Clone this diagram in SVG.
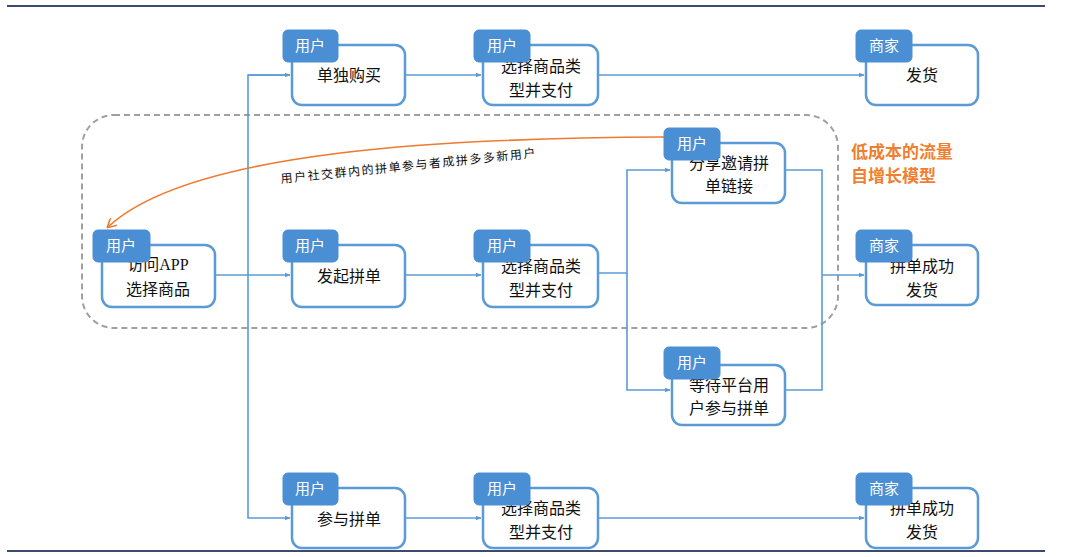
<svg xmlns="http://www.w3.org/2000/svg" width="1080" height="557" viewBox="0 0 1080 557">
<defs>
<style>
.box{fill:#fff;stroke:#5b9bd5;stroke-width:2.5}
.tag{fill:#4a8fd4;stroke:#4a8fd4;stroke-width:1}
.tt{font-family:"Liberation Sans","Noto Sans CJK SC",sans-serif;font-size:15px;fill:#fff;text-anchor:middle}
.bt{font-family:"Liberation Serif","Noto Sans CJK SC",serif;font-size:16px;fill:#111;text-anchor:middle}
.ln{fill:none;stroke:#5b9bd5;stroke-width:1.6}
.rule{stroke:#3c4a70;stroke-width:2}
</style>
<marker id="ah" viewBox="0 0 10 10" refX="9" refY="5" markerWidth="6" markerHeight="6" orient="auto" markerUnits="userSpaceOnUse">
<path d="M0,1 L10,5 L0,9 z" fill="#5b9bd5"/>
</marker>
<marker id="ao" viewBox="0 0 10 10" refX="8" refY="5" markerWidth="10" markerHeight="10" orient="auto" markerUnits="userSpaceOnUse">
<path d="M0,0 L9,5 L0,10" fill="none" stroke="#ee7a2e" stroke-width="1.6"/>
</marker>
</defs>
<rect width="1080" height="557" fill="#fff"/>
<line class="rule" x1="7" y1="6" x2="1045" y2="6"/>
<line class="rule" x1="7" y1="551" x2="1045" y2="551"/>

<rect x="82" y="115" width="756" height="213" rx="32" fill="none" stroke="#a0a0a0" stroke-width="2" stroke-dasharray="6 4"/>

<g id="connectors">
<path class="ln" d="M215,275 H290" marker-end="url(#ah)"/>
<path class="ln" d="M290,75 H248 V518 H290" marker-end="url(#ah)"/>
<path class="ln" d="M248,75 H290" marker-end="url(#ah)"/>
<path class="ln" d="M405,75 H481" marker-end="url(#ah)"/>
<path class="ln" d="M598,75 H864" marker-end="url(#ah)"/>
<path class="ln" d="M405,275 H481" marker-end="url(#ah)"/>
<path class="ln" d="M598,273 H627 V170 H670" marker-end="url(#ah)"/>
<path class="ln" d="M627,273 V390 H670" marker-end="url(#ah)"/>
<path class="ln" d="M785,170 H822 V390 H785"/>
<path class="ln" d="M822,275 H864" marker-end="url(#ah)"/>
<path class="ln" d="M405,518 H481" marker-end="url(#ah)"/>
<path class="ln" d="M598,518 H864" marker-end="url(#ah)"/>
<path d="M664,137 C450,138 190,150 108,227" fill="none" stroke="#ee7a2e" stroke-width="1.6" marker-end="url(#ao)"/>
<text x="281" y="183" transform="rotate(-5.8 281 183)" font-family="Liberation Serif,'Noto Sans CJK SC',serif" font-size="12" fill="#111" textLength="256">用户社交群内的拼单参与者成拼多多新用户</text>
</g>

<g id="n-buy-alone"><rect class="box" x="292" y="45" width="113" height="60" rx="10"/><text class="bt" x="349" y="81">单独购买</text><rect class="tag" x="283" y="30" width="55" height="32" rx="5"/><text class="tt" x="310" y="51">用户</text></g>
<g id="n-pay-1"><rect class="box" x="483" y="45" width="115" height="60" rx="10"/><text class="bt" x="541" y="72">选择商品类</text><text class="bt" x="541" y="96">型并支付</text><rect class="tag" x="474" y="30" width="56" height="32" rx="5"/><text class="tt" x="502" y="51">用户</text></g>
<g id="n-ship-1"><rect class="box" x="866" y="45" width="112" height="60" rx="10"/><text class="bt" x="922" y="81">发货</text><rect class="tag" x="856" y="30" width="56" height="32" rx="5"/><text class="tt" x="884" y="51">商家</text></g>

<g id="n-visit"><rect class="box" x="102" y="245" width="113" height="62" rx="10"/><text class="bt" x="158" y="270">访问APP</text><text class="bt" x="158" y="295">选择商品</text><rect class="tag" x="93" y="230" width="57" height="32" rx="5"/><text class="tt" x="121" y="251">用户</text></g>
<g id="n-start-group"><rect class="box" x="292" y="245" width="113" height="62" rx="10"/><text class="bt" x="349" y="282">发起拼单</text><rect class="tag" x="283" y="230" width="55" height="32" rx="5"/><text class="tt" x="310" y="251">用户</text></g>
<g id="n-pay-2"><rect class="box" x="483" y="245" width="115" height="62" rx="10"/><text class="bt" x="541" y="272">选择商品类</text><text class="bt" x="541" y="296">型并支付</text><rect class="tag" x="474" y="230" width="56" height="32" rx="5"/><text class="tt" x="502" y="251">用户</text></g>
<g id="n-share"><rect class="box" x="672" y="143" width="113" height="60" rx="10"/><text class="bt" x="729" y="169">分享邀请拼</text><text class="bt" x="729" y="192">单链接</text><rect class="tag" x="664" y="128" width="56" height="32" rx="5"/><text class="tt" x="692" y="149">用户</text></g>
<g id="n-wait"><rect class="box" x="672" y="365" width="113" height="60" rx="10"/><text class="bt" x="729" y="391">等待平台用</text><text class="bt" x="729" y="414">户参与拼单</text><rect class="tag" x="664" y="347" width="56" height="32" rx="5"/><text class="tt" x="692" y="368">用户</text></g>
<g id="n-ship-2"><rect class="box" x="866" y="245" width="112" height="60" rx="10"/><text class="bt" x="922" y="272">拼单成功</text><text class="bt" x="922" y="296">发货</text><rect class="tag" x="856" y="230" width="56" height="32" rx="5"/><text class="tt" x="884" y="251">商家</text></g>

<g id="n-join"><rect class="box" x="292" y="488" width="113" height="60" rx="10"/><text class="bt" x="349" y="525">参与拼单</text><rect class="tag" x="283" y="473" width="55" height="32" rx="5"/><text class="tt" x="310" y="494">用户</text></g>
<g id="n-pay-3"><rect class="box" x="483" y="488" width="115" height="60" rx="10"/><text class="bt" x="541" y="514">选择商品类</text><text class="bt" x="541" y="538">型并支付</text><rect class="tag" x="474" y="473" width="56" height="32" rx="5"/><text class="tt" x="502" y="494">用户</text></g>
<g id="n-ship-3"><rect class="box" x="866" y="488" width="112" height="60" rx="10"/><text class="bt" x="922" y="514">拼单成功</text><text class="bt" x="922" y="538">发货</text><rect class="tag" x="856" y="473" width="56" height="32" rx="5"/><text class="tt" x="884" y="494">商家</text></g>

<g id="label-model" font-family="Liberation Sans,'Noto Sans CJK SC',sans-serif" font-size="17" font-weight="bold" fill="#f07f32">
<text x="851" y="158">低成本的流量</text>
<text x="851" y="182">自增长模型</text>
</g>
</svg>
